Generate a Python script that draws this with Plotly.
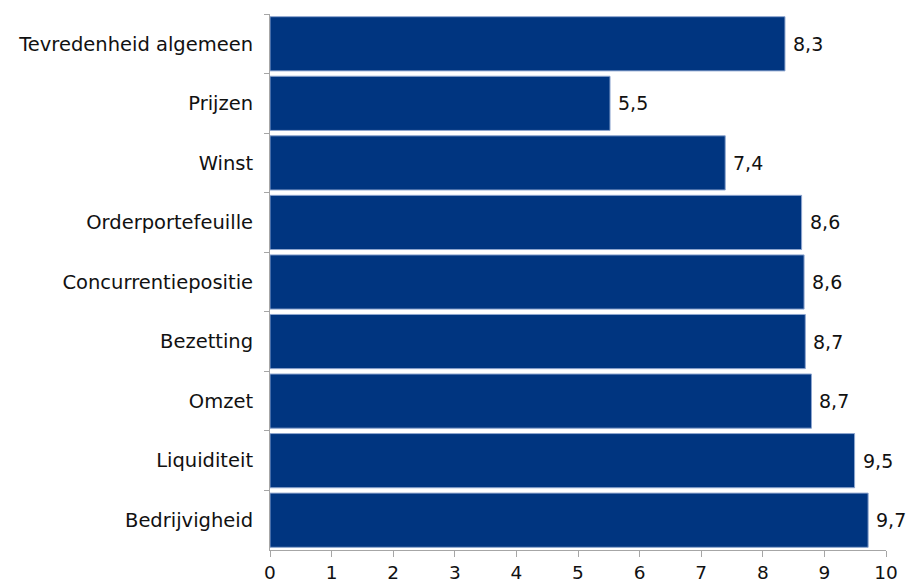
import plotly.graph_objects as go

categories = ["Tevredenheid algemeen", "Prijzen", "Winst", "Orderportefeuille",
              "Concurrentiepositie", "Bezetting", "Omzet", "Liquiditeit", "Bedrijvigheid"]
values = [8.36, 5.52, 7.39, 8.63, 8.67, 8.69, 8.79, 9.49, 9.71]
labels = ["8,3", "5,5", "7,4", "8,6", "8,6", "8,7", "8,7", "9,5", "9,7"]
x_ticks = list(range(0, 11))

FONT = "DejaVu Sans"

fig = go.Figure()
fig.add_trace(go.Bar(
    y=categories, x=values, orientation="h",
    marker=dict(color="#003580", line=dict(color="#8ea6cf", width=1)),
    hoverinfo="skip",
))

for c, v, t in zip(categories, values, labels):
    fig.add_annotation(x=v, y=c, text=t, showarrow=False, xanchor="left",
                       xshift=6, font=dict(family=FONT, size=19, color="#111111"))

fig.update_layout(
    width=907, height=581,
    margin=dict(l=270, r=21, t=14, b=31),
    paper_bgcolor="white", plot_bgcolor="white",
    bargap=0.09,
    showlegend=False,
    font=dict(family=FONT, size=19.5, color="#111111"),
)
fig.update_xaxes(
    range=[0, 10], tickvals=x_ticks, ticktext=[str(v) for v in x_ticks],
    showgrid=False, zeroline=False, showline=True, linecolor="#a6a6a6", linewidth=1,
    ticks="outside", ticklen=6, tickcolor="#a6a6a6", automargin=False,
    ticklabelstandoff=0,
    tickfont=dict(family=FONT, size=18.5, color="#111111"),
)
fig.update_yaxes(
    autorange="reversed", showgrid=False, zeroline=False, automargin=False,
    showline=True, linecolor="#a6a6a6", linewidth=1,
    ticks="outside", ticklen=5, tickcolor="#a6a6a6", tickson="boundaries",
    ticklabelstandoff=12,
    tickfont=dict(family=FONT, size=19.5, color="#111111"),
)

fig.write_html("out.html", config={"displayModeBar": False})

with open("out.html", "r", encoding="utf-8") as f:
    html = f.read()
html = html.replace("<body>", '<body style="margin:0;overflow:hidden">', 1)
with open("out.html", "w", encoding="utf-8") as f:
    f.write(html)
